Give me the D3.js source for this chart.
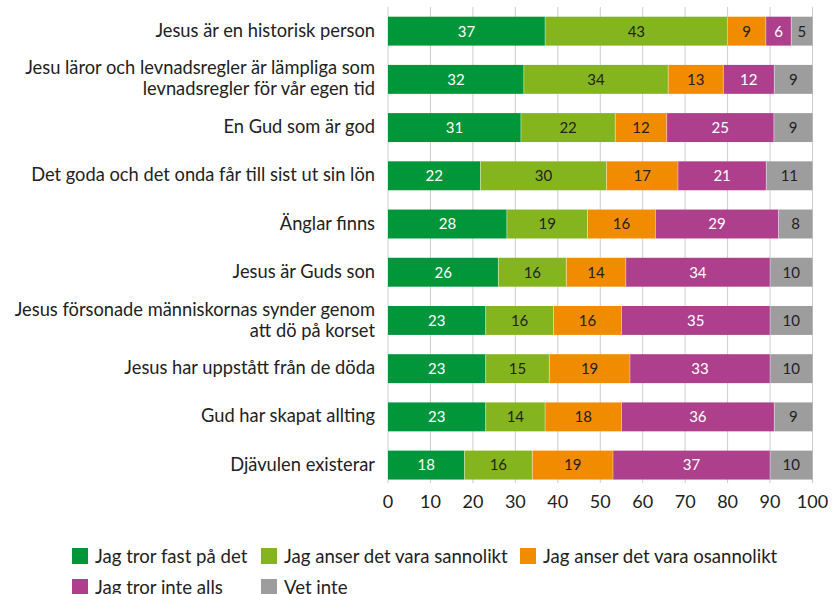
<!DOCTYPE html>
<html><head><meta charset="utf-8">
<script src="https://cdn.jsdelivr.net/npm/d3@7"></script>
<style>body{margin:0;background:#fff}svg{display:block}text{font-family:Lato,"Open Sans",sans-serif}</style>
</head><body><svg id="c" width="833" height="594"></svg>
<script>
const categories = [
  ["Jesus är en historisk person"],
  ["Jesu läror och levnadsregler är lämpliga som","levnadsregler för vår egen tid"],
  ["En Gud som är god"],
  ["Det goda och det onda får till sist ut sin lön"],
  ["Änglar finns"],
  ["Jesus är Guds son"],
  ["Jesus försonade människornas synder genom","att dö på korset"],
  ["Jesus har uppstått från de döda"],
  ["Gud har skapat allting"],
  ["Djävulen existerar"]
];
const seriesNames = ["Jag tror fast på det","Jag anser det vara sannolikt","Jag anser det vara osannolikt","Jag tror inte alls","Vet inte"];
const fastPaDet   = [37,32,31,22,28,26,23,23,23,18];
const sannolikt   = [43,34,22,30,19,16,16,15,14,16];
const osannolikt  = [9,13,12,17,16,14,16,19,18,19];
const inteAlls    = [6,12,25,21,29,34,35,33,36,37];
const vetInte     = [5,9,9,11,8,10,10,10,9,10];
const xTicks = [0,10,20,30,40,50,60,70,80,90,100];
const colors = ["#009639","#84b51f","#f18c00","#ae3f8c","#9d9d9d"];
const labelColors = ["#fff","#222","#222","#fff","#222"];

const seriesArr = [fastPaDet,sannolikt,osannolikt,inteAlls,vetInte];
const table = categories.map((c,i)=>{const o={i}; seriesArr.forEach((s,k)=>o["s"+k]=s[i]); return o;});
const keys = seriesArr.map((s,k)=>"s"+k);
// 100% stacked bars
const stacked = d3.stack().keys(keys).offset(d3.stackOffsetExpand)(table);

const svg = d3.select("#c");
const x = d3.scaleLinear().domain([0,1]).range([388,812.5]);
const xt = d3.scaleLinear().domain([0,100]).range([388,812.5]);
const y = d3.scaleBand().domain(d3.range(categories.length)).range([7.05,489.2]).paddingInner(0.4).paddingOuter(0.2);

// gridlines
svg.append("g").selectAll("line").data(xTicks).join("line")
  .attr("x1",d=>xt(d)).attr("x2",d=>xt(d)).attr("y1",7).attr("y2",483)
  .attr("stroke","#cccccc").attr("stroke-width",1);

const rows = stacked.flatMap((layer,k)=>layer.map((d,i)=>({k,i,x0:d[0],x1:d[1],v:seriesArr[k][i]})));
const g = svg.append("g");
g.selectAll("rect").data(rows).join("rect")
  .attr("x",d=>x(d.x0)).attr("width",d=>x(d.x1)-x(d.x0))
  .attr("y",d=>y(d.i)).attr("height",y.bandwidth())
  .attr("fill",d=>colors[d.k]);
g.selectAll("line.sep").data(rows.filter(d=>d.k>0)).join("line")
  .attr("x1",d=>x(d.x0)).attr("x2",d=>x(d.x0))
  .attr("y1",d=>y(d.i)).attr("y2",d=>y(d.i)+y.bandwidth())
  .attr("stroke","#fff").attr("stroke-width",0.8).attr("opacity",0.5);
g.selectAll("text").data(rows).join("text")
  .attr("x",d=>(x(d.x0)+x(d.x1))/2).attr("y",d=>y(d.i)+y.bandwidth()/2)
  .attr("dy","0.36em").attr("text-anchor","middle")
  .attr("font-size",15).attr("fill",d=>labelColors[d.k]).text(d=>d.v);

// category labels
const cl = svg.append("g");
categories.forEach((lines,i)=>{
  const cy = y(i)+y.bandwidth()/2 - 1;
  const t = cl.append("text").attr("text-anchor","end").attr("font-size",18.3).attr("fill","#222");
  lines.forEach((ln,j)=>{
    t.append("tspan").attr("x",375).attr("y",cy+(j-(lines.length-1)/2)*21).attr("dy","0.36em").text(ln);
  });
});

// x axis labels
svg.append("g").selectAll("text").data(xTicks).join("text")
  .attr("x",d=>xt(d)).attr("y",501.5).attr("dy","0.36em").attr("text-anchor","middle")
  .attr("font-size",18).attr("fill","#222").text(d=>d);

// legend
const legPos = [[72,556],[261,556],[520,556],[72,587],[261,587]];
const lg = svg.append("g");
seriesNames.forEach((n,k)=>{
  const [lx,ly]=legPos[k];
  lg.append("rect").attr("x",lx).attr("y",ly-8).attr("width",16).attr("height",16).attr("fill",colors[k]);
  lg.append("text").attr("x",lx+23).attr("y",ly).attr("dy","0.36em").attr("font-size",18.6).attr("fill","#222").text(n);
});
</script></body></html>
